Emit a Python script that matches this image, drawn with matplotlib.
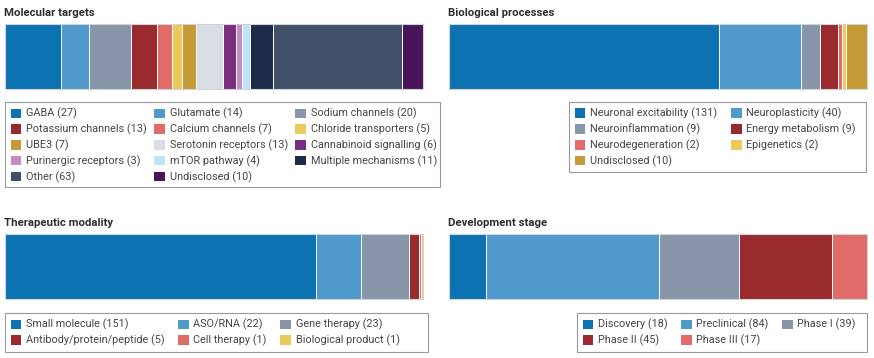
import matplotlib
matplotlib.use("Agg")
import matplotlib.pyplot as plt
from matplotlib.patches import Patch, Rectangle
import numpy as np

W, H = 874, 358

# palette shared by the panels
BLUE = '#0d72b1'
LBLUE = '#4f99cd'
GREY = '#8996a9'
RED = '#992a2d'
SALMON = '#e06b68'
YELLOW = '#ecc95c'
GOLD = '#c79a38'

mol_labels = ['GABA', 'Glutamate', 'Sodium channels', 'Potassium channels',
              'Calcium channels', 'Chloride transporters', 'UBE3',
              'Serotonin receptors', 'Cannabinoid signalling',
              'Purinergic receptors', 'mTOR pathway', 'Multiple mechanisms',
              'Other', 'Undisclosed']
mol_values = [27, 14, 20, 13, 7, 5, 7, 13, 6, 3, 4, 11, 63, 10]
mol_colors = [BLUE, LBLUE, GREY, RED, SALMON, YELLOW, GOLD, '#d9dde6',
              '#7b2d7e', '#c68ac4', '#bfe4f6', '#1e2b48', '#3f5068', '#4a1459']

bio_labels = ['Neuronal excitability', 'Neuroplasticity', 'Neuroinflammation',
              'Energy metabolism', 'Neurodegeneration', 'Epigenetics',
              'Undisclosed']
bio_values = [131, 40, 9, 9, 2, 2, 10]
bio_colors = [BLUE, LBLUE, GREY, RED, SALMON, YELLOW, GOLD]

mod_labels = ['Small molecule', 'ASO/RNA', 'Gene therapy',
              'Antibody/protein/peptide', 'Cell therapy', 'Biological product']
mod_values = [151, 22, 23, 5, 1, 1]
mod_colors = [BLUE, LBLUE, GREY, RED, SALMON, YELLOW]

dev_labels = ['Discovery', 'Preclinical', 'Phase I', 'Phase II', 'Phase III']
dev_values = [18, 84, 39, 45, 17]
dev_colors = [BLUE, LBLUE, GREY, RED, SALMON]

plt.rcParams['font.family'] = ['Roboto', 'DejaVu Sans']

fig = plt.figure(figsize=(W / 100, H / 100), dpi=100)


def bar_panel(title, labels, values, colors, box, frame, ncol, colsp):
    x0, y0, x1, y1 = box
    ax = fig.add_axes([x0 / W, 1 - y1 / H, (x1 - x0) / W, (y1 - y0) / H])
    left = np.concatenate([[0], np.cumsum(values)[:-1]])
    ax.barh(0, values, left=left, height=1, color=colors,
            edgecolor='white', linewidth=0.7)
    ax.set_xlim(0, sum(values))
    ax.set_ylim(-0.5, 0.5)
    ax.set_xticks([])
    ax.set_yticks([])
    for s in ax.spines.values():
        s.set_color('#cfd4da')
        s.set_linewidth(0.8)
    fig.text((x0 - 1) / W, 1 - (y0 - 11) / H, title, fontsize=8.2,
             fontweight='bold', color='#2e2e2e', va='center', ha='left')

    # legend is read row by row, matplotlib fills columns
    order = [i for c in range(ncol) for i in range(c, len(labels), ncol)]
    handles = [Patch(facecolor=colors[i], edgecolor='none') for i in order]
    texts = ['%s (%d)' % (labels[i], values[i]) for i in order]
    fx0, fy0, fx1, fy1 = frame
    leg = fig.legend(handles, texts, ncol=ncol, loc='upper left',
                     bbox_to_anchor=(fx0 / W, 1 - fy0 / H),
                     fontsize=7.8, frameon=False,
                     handlelength=0.95, handleheight=0.95, handletextpad=0.45,
                     columnspacing=colsp, labelspacing=0.4, borderpad=0.55,
                     borderaxespad=0)
    for t in leg.get_texts():
        t.set_color('#454545')
    # box drawn separately so it can be wider than the entries
    fig.patches.append(Rectangle((fx0 / W, 1 - fy1 / H), (fx1 - fx0) / W,
                                 (fy1 - fy0) / H, transform=fig.transFigure,
                                 fill=False, edgecolor='#9a9a9a',
                                 linewidth=0.8))


bar_panel('Molecular targets', mol_labels, mol_values, mol_colors,
          (5, 24, 423, 89), (5, 102, 440, 187), 3, 0.7)
bar_panel('Biological processes', bio_labels, bio_values, bio_colors,
          (449, 24, 867, 89), (569, 102, 866, 172), 2, 1.3)
bar_panel('Therapeutic modality', mod_labels, mod_values, mod_colors,
          (5, 234, 423, 299), (5, 313, 428, 352), 3, 1.25)
bar_panel('Development stage', dev_labels, dev_values, dev_colors,
          (449, 234, 867, 299), (577, 313, 867, 352), 3, 1.25)

fig.savefig('out.png', dpi=100)
